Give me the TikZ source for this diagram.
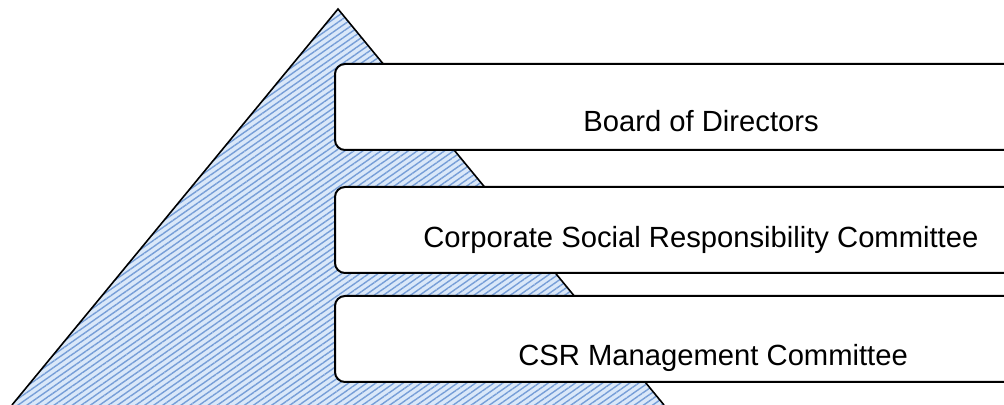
\documentclass[tikz,border=0pt]{standalone}
\usepackage{fontspec}
\setmainfont{Liberation Sans}
\usetikzlibrary{patterns.meta}
\definecolor{pyrblue}{RGB}{218,232,249}
\definecolor{pyrline}{RGB}{118,158,215}

\begin{document}
\begin{tikzpicture}[
            x=0.5pt, y=0.5pt,
            level/.style={draw, line width=1pt, fill=white, rectangle, rounded corners=5pt,
                          minimum width=341pt, minimum height=43pt, anchor=north west},
            label text/.style={inner sep=0pt, anchor=base west, font=\fontsize{14.6}{17}\selectfont}
        ]
            \useasboundingbox (0,0) rectangle (1004,405);
            % the pyramid
            \fill[pyrblue] (12,0) -- (338,396) -- (664,0) -- cycle;
            \fill[pattern={Lines[angle=35, distance=2.6pt, line width=0.7pt]}, pattern color=pyrline]
                (12,0) -- (338,396) -- (664,0) -- cycle;
            \draw[line width=0.8pt] (12,0) -- (338,396) -- (664,0);

            \node[level] (board) at (334,342) {};
            \node[level] (csrc) at (334,219) {};
            \node[level] (csrm) at (334,110) {};

            \node[label text] (boardtext) at (583,273) {Board of Directors};
            \node[label text] (csrctext) at (423,157) {Corporate Social Responsibility Committee};
            \node[label text] (csrmtext) at (518,39) {CSR Management Committee};
        \end{tikzpicture}
\end{document}
